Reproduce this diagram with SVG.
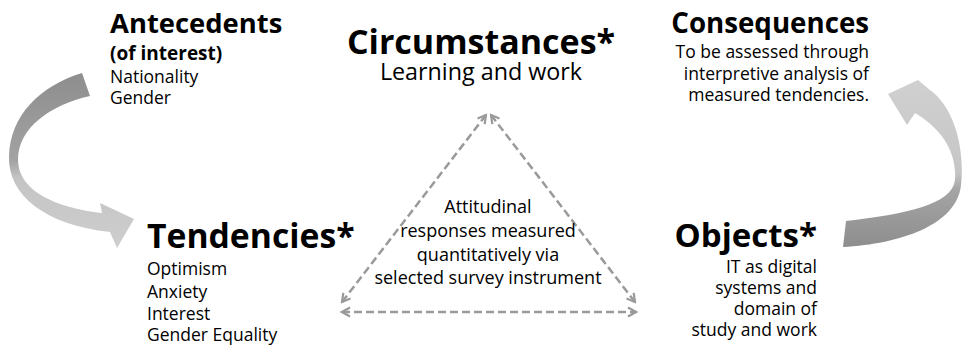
<svg xmlns="http://www.w3.org/2000/svg" width="962" height="346" viewBox="0 0 962 346">
  <defs>
    <style>
      text { font-family: "Open Sans", "Noto Sans", "Liberation Sans", sans-serif; fill: #000; }
      .title { font-weight: 700; }
      .body { font-size: 17.5px; }
      .note { font-size: 18px; text-anchor: middle; }
      .right { text-anchor: end; }
      .mid { text-anchor: middle; }
      .dash { fill: none; stroke: #9a9a9a; stroke-width: 2.5; stroke-dasharray: 8 4; marker-start: url(#chev); marker-end: url(#chev); }
    </style>
    <marker id="chev" viewBox="0 0 12 12" refX="10" refY="6" markerWidth="12" markerHeight="12" markerUnits="userSpaceOnUse" orient="auto-start-reverse">
      <path d="M2,1.5 L10,6 L2,10.5" fill="none" stroke="#9a9a9a" stroke-width="2.2"/>
    </marker>
    <linearGradient id="gradLeft" gradientUnits="userSpaceOnUse" x1="0" y1="73" x2="0" y2="248">
      <stop offset="0" stop-color="#8e8e8e"/>
      <stop offset="0.5" stop-color="#a2a2a2"/>
      <stop offset="0.6" stop-color="#c4c4c4"/>
      <stop offset="1" stop-color="#cecece"/>
    </linearGradient>
    <linearGradient id="gradRight" gradientUnits="userSpaceOnUse" x1="0" y1="80" x2="0" y2="247">
      <stop offset="0" stop-color="#d0d0d0"/>
      <stop offset="0.55" stop-color="#c6c6c6"/>
      <stop offset="0.66" stop-color="#a4a4a4"/>
      <stop offset="1" stop-color="#8e8e8e"/>
    </linearGradient>
  </defs>

  <rect width="962" height="346" fill="#fff"/>

  <g id="connectors">
    <!-- curved block arrows -->
    <path d="M82,73 C40,86 10,115 9,157 C8,195 45,225 110,232 L117,248 L134,219 L100,203 L102,213 C55,208 18,190 18,160 C18,128 50,105 90,96 Z" fill="url(#gradLeft)"/>
    <path d="M846,221 C905,214 952,205 955,180 C957,150 940,128 915,113 L907,125 L888,94 L918,80 L930,90 C955,108 965,150 961,185 C957,225 900,244 843,247 Z" fill="url(#gradRight)"/>
    <!-- dashed triangle, double-headed sides -->
    <line class="dash" x1="342" y1="302" x2="486" y2="115"/>
    <line class="dash" x1="491" y1="115" x2="635" y2="302"/>
    <line class="dash" x1="342" y1="312" x2="636" y2="312"/>
  </g>

  <g id="antecedents">
    <text class="title" x="110" y="33" font-size="27.4">Antecedents</text>
    <text class="title" x="110" y="60" font-size="19">(of interest)</text>
    <text class="body" x="110" y="83">Nationality</text>
    <text class="body" x="110" y="104">Gender</text>
  </g>

  <g id="circumstances">
    <text class="title mid" x="481" y="54" font-size="34">Circumstances*</text>
    <text class="mid" x="481" y="80" font-size="23.3">Learning and work</text>
  </g>

  <g id="consequences">
    <text class="title right" x="869" y="33" font-size="27.7">Consequences</text>
    <text class="body right" x="869" y="58">To be assessed through</text>
    <text class="body right" x="869" y="80">interpretive analysis of</text>
    <text class="body right" x="869" y="101">measured tendencies.</text>
  </g>

  <g id="tendencies">
    <text class="title" x="147" y="248" font-size="33.7">Tendencies*</text>
    <text class="body" x="147" y="275">Optimism</text>
    <text class="body" x="147" y="297.5">Anxiety</text>
    <text class="body" x="147" y="319.5">Interest</text>
    <text class="body" x="147" y="341">Gender Equality</text>
  </g>

  <g id="objects">
    <text class="title right" x="817" y="247" font-size="33">Objects*</text>
    <text class="body right" x="817" y="273">IT as digital</text>
    <text class="body right" x="817" y="294">systems and</text>
    <text class="body right" x="817" y="315">domain of</text>
    <text class="body right" x="817" y="336">study and work</text>
  </g>

  <g id="measurement">
    <text class="note" x="488" y="213">Attitudinal</text>
    <text class="note" x="488" y="237">responses measured</text>
    <text class="note" x="488" y="261">quantitatively via</text>
    <text class="note" x="488" y="284">selected survey instrument</text>
  </g>
</svg>
